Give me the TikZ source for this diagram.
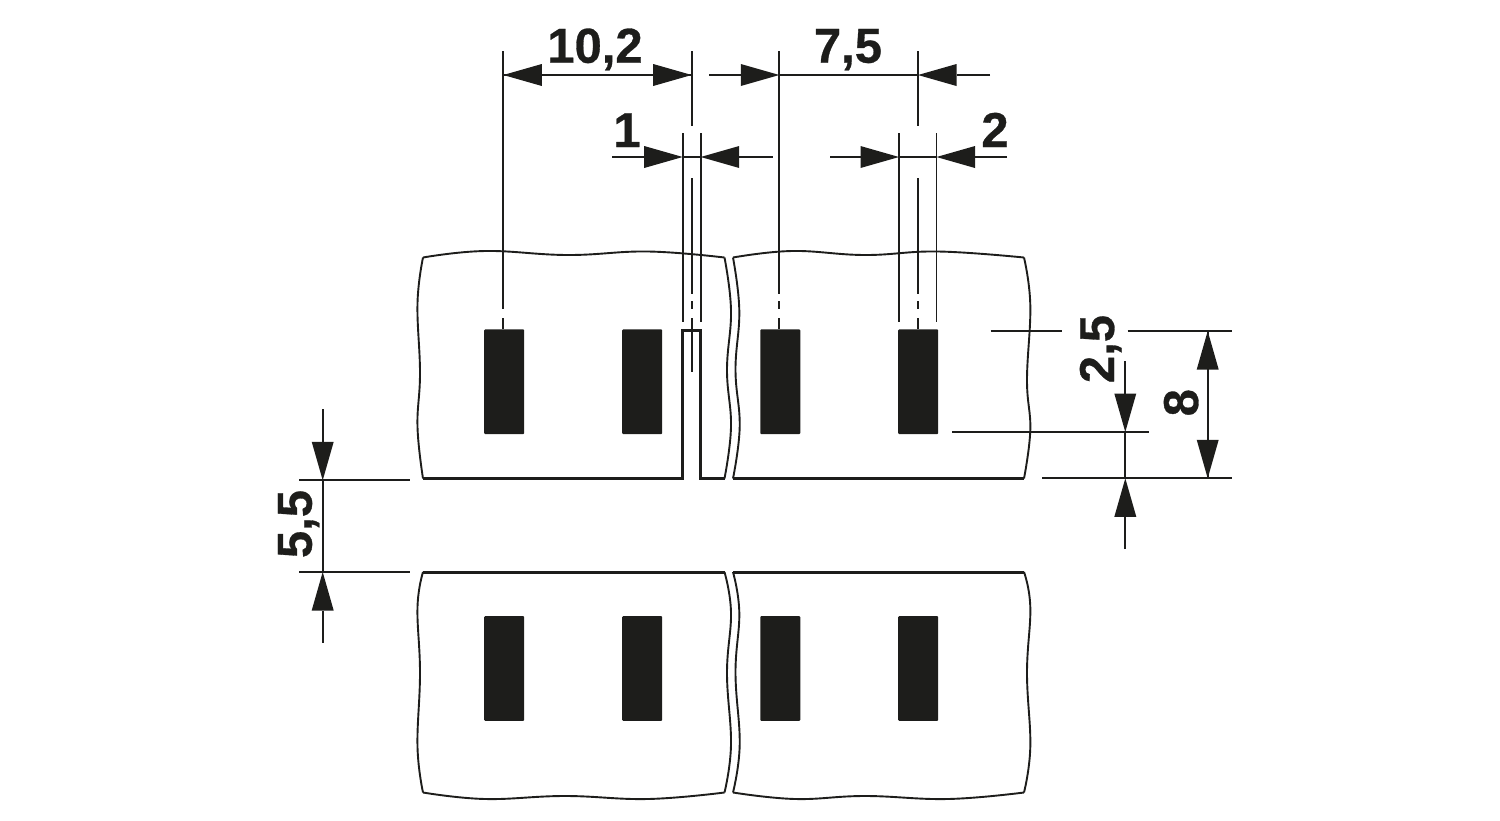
\documentclass[tikz,border=0pt]{standalone}
\usepackage{fontspec}
\setmainfont[BoldFeatures={FakeBold=0.6}]{Liberation Sans}
\usetikzlibrary{arrows.meta}
\definecolor{ink}{HTML}{1D1D1B}
\tikzset{
  pad/.style={draw=none, fill=ink, rounded corners=1pt, inner sep=0pt, outer sep=0pt, minimum width=40pt, minimum height=104.7pt},
  dimlabel/.style={text=ink, anchor=base, inner sep=0pt, font=\fontsize{49}{49}\selectfont\bfseries},
  thin line/.style={draw=ink, line width=1.7pt},
  edge line/.style={draw=ink, line width=1.9pt, smooth, tension=0.7},
  heavy line/.style={draw=ink, line width=3pt, miter limit=4},
  tip/.style={-{Triangle[length=38.5pt,width=22pt,line width=0pt]}}
}
\begin{document}
\begin{tikzpicture}[x=1pt, y=-1pt]
  \useasboundingbox (0,0) rectangle (1500,820);

  % pads
  \foreach \n/\x in {1/504.2, 2/642.2, 3/780.3, 4/918.2} {
    \node[pad] (pad\n) at (\x,381.7) {};
    \node[pad] (low\n) at (\x,668.5) {};
  }

  % guides
  \coordinate (gA) at (503.3,0);
  \coordinate (gB) at (691.7,0);
  \coordinate (gC) at (779.3,0);
  \coordinate (gD) at (918,0);
  \coordinate (sA) at (682.7,0);
  \coordinate (sB) at (700.7,0);
  \coordinate (sC) at (899,0);
  \coordinate (sD) at (936.5,0);
  \coordinate (top) at (0,51);
  \coordinate (brk) at (0,126);
  \coordinate (stub) at (0,133);
  \coordinate (res) at (0,178);
  \coordinate (dashA) at (0,294);
  \coordinate (dashB) at (0,301);
  \coordinate (dashC) at (0,309);
  \coordinate (dashD) at (0,318);
  \coordinate (stubEnd) at (0,322.3);
  \coordinate (slotEnd) at (0,372.3);

  % upper strip
  \draw[edge line] plot coordinates {(423,257.5) (485,251) (568,255) (648,251.5) (724.5,257.5)};
  \draw[edge line] plot coordinates {(423,257.5) (417.5,303) (420,373) (417.5,427) (423,478.5)};
  \draw[edge line] plot coordinates {(724.5,257.5) (731,310) (727,370) (731,427) (724.5,478.5)};
  \draw[heavy line] (423,478.5) -- (682.5,478.5) -- (682.5,330.7) -- (700.8,330.7) -- (700.8,478.5) -- (724.5,478.5);
  \draw[edge line] plot coordinates {(733,257.5) (792,251) (865,255) (938,251.5) (1024,257.5)};
  \draw[edge line] plot coordinates {(733,257.5) (739.3,310) (735.5,370) (739.7,427) (733,478.5)};
  \draw[edge line] plot coordinates {(1024,257.5) (1030.3,305) (1027,380) (1030.3,430) (1024,478.5)};
  \draw[heavy line] (733,478.5) -- (1024,478.5);

  % lower strip
  \draw[heavy line] (423,572) -- (724.5,572);
  \draw[edge line] plot coordinates {(423,792.5) (485,799) (565,796) (648,799) (724.5,792.5)};
  \draw[edge line] plot coordinates {(423,572) (417.5,607) (420,673) (417.5,747) (423,792.5)};
  \draw[edge line] plot coordinates {(724.5,572) (731,612) (727,673) (731,745) (724.5,792.5)};
  \draw[heavy line] (733,572) -- (1024,572);
  \draw[edge line] plot coordinates {(733,792.5) (795,799) (865,796) (948,799) (1024,792.5)};
  \draw[edge line] plot coordinates {(733,572) (739.3,612) (735.5,673) (739.7,745) (733,792.5)};
  \draw[edge line] plot coordinates {(1024,572) (1030.3,607) (1027,673) (1030.3,747) (1024,792.5)};

  % leaders going up
  \draw[thin line] (gA |- top) -- (gA |- dashC);
  \draw[thin line] (gA |- dashD) -- (gA |- pad1.north);
  \draw[thin line] (gC |- top) -- (gC |- dashA);
  \foreach \g in {gB, gD} {
    \draw[thin line] (\g |- top) -- (\g |- brk);
    \draw[thin line] (\g |- res) -- (\g |- dashA);
  }
  \foreach \g in {gB, gC, gD} {
    \draw[thin line] (\g |- dashB) -- (\g |- dashC);
  }
  \draw[thin line] (gB |- dashD) -- (gB |- slotEnd);
  \draw[thin line] (gC |- dashD) -- (gC |- pad3.north);
  \draw[thin line] (gD |- dashD) -- (gD |- pad4.north);
  \foreach \g in {sA, sB, sC, sD} {
    \draw[thin line] (\g |- stub) -- (\g |- stubEnd);
  }

  % widths
  \coordinate (wide) at (0,75);
  \coordinate (slim) at (0,157);
  \coordinate (freeA) at (709,75);
  \coordinate (freeB) at (990,75);
  \coordinate (freeC) at (612,157);
  \coordinate (freeD) at (772.5,157);
  \coordinate (freeE) at (830,157);
  \coordinate (freeF) at (1007,157);
  \draw[thin line, tip] (gB |- wide) -- (gA |- wide);
  \draw[thin line, tip] (gA |- wide) -- (gB |- wide);
  \draw[thin line, tip] (freeA) -- (gC |- wide);
  \draw[thin line] (gC |- wide) -- (gD |- wide);
  \draw[thin line, tip] (freeB) -- (gD |- wide);
  \draw[thin line, tip] (freeC) -- (sA |- slim);
  \draw[thin line] (sA |- slim) -- (sB |- slim);
  \draw[thin line, tip] (freeD) -- (sB |- slim);
  \draw[thin line, tip] (freeE) -- (sC |- slim);
  \draw[thin line] (sC |- slim) -- (sD |- slim);
  \draw[thin line, tip] (freeF) -- (sD |- slim);

  \node[dimlabel] (lblWide) at (595,62.7) {10,2};
  \node[dimlabel] (lblPitch) at (848,62.7) {7,5};
  \node[dimlabel] (lblSlot) at (627,147) {1};
  \node[dimlabel] (lblPad) at (995,147) {2};

  % heights
  \coordinate (upA) at (990.7,331);
  \coordinate (upB) at (1062,331);
  \coordinate (upC) at (1127.7,331);
  \coordinate (upD) at (1231.7,331);
  \coordinate (midA) at (952.3,432);
  \coordinate (midB) at (1149.3,432);
  \coordinate (lowA) at (1042,478.3);
  \coordinate (lowB) at (1231.7,478.3);
  \coordinate (hgA) at (1207.7,0);
  \coordinate (hgB) at (1125.3,0);
  \coordinate (hgTop) at (1125.3,361);
  \coordinate (hgEnd) at (1125.3,549);
  \draw[thin line] (upA) -- (upB);
  \draw[thin line] (upC) -- (upD);
  \draw[thin line] (midA) -- (midB);
  \draw[thin line] (lowA) -- (lowB);
  \draw[thin line, tip] (hgA |- lowB) -- (hgA |- upD);
  \draw[thin line, tip] (hgA |- upD) -- (hgA |- lowB);
  \draw[thin line, tip] (hgTop) -- (hgB |- midB);
  \draw[thin line] (hgB |- midB) -- (hgB |- lowB);
  \draw[thin line, tip] (hgEnd) -- (hgB |- lowB);

  \node[dimlabel, rotate=90] (lblTotal) at (1198,402.7) {8};
  \node[dimlabel, rotate=90] (lblEnd) at (1114,349) {2,5};

  % gap between strips
  \coordinate (gapA) at (299,480.3);
  \coordinate (gapB) at (409.7,480.3);
  \coordinate (gapC) at (299,572);
  \coordinate (gapD) at (409.7,572);
  \coordinate (gapTop) at (322.7,409);
  \coordinate (gapEnd) at (322.7,642.7);
  \draw[thin line] (gapA) -- (gapB);
  \draw[thin line] (gapC) -- (gapD);
  \draw[thin line, tip] (gapTop) -- (gapTop |- gapA);
  \draw[thin line] (gapTop |- gapA) -- (gapTop |- gapC);
  \draw[thin line, tip] (gapEnd) -- (gapEnd |- gapC);

  \node[dimlabel, rotate=90] (lblGap) at (311.7,524) {5,5};
\end{tikzpicture}
\end{document}
